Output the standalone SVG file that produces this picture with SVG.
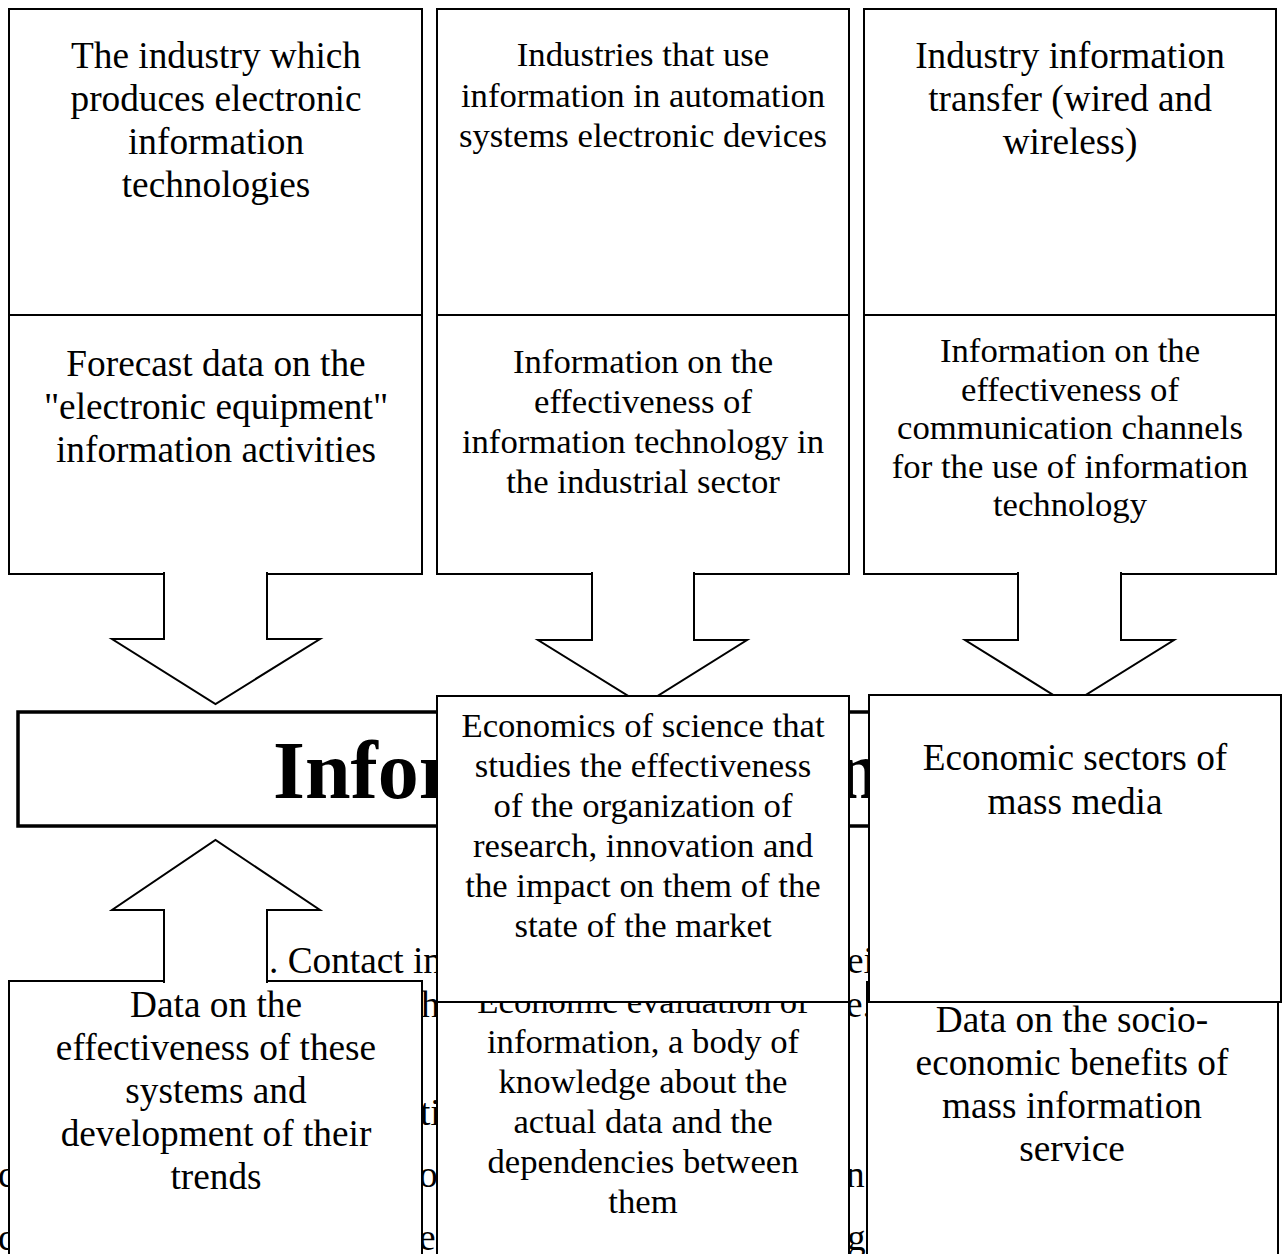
<svg xmlns="http://www.w3.org/2000/svg" width="1285" height="1254" viewBox="0 0 1285 1254">
<style>
.box{fill:#fff;stroke:#000;stroke-width:2}
.main{fill:#fff;stroke:#000;stroke-width:3.5}
.arr{fill:#fff;stroke:#000;stroke-width:2;stroke-linejoin:miter}
.t{font-family:"Liberation Serif","Times New Roman",serif;font-size:37.3px;fill:#000;text-anchor:middle}
.s{font-size:34.7px}
.bg{font-family:"Liberation Serif","Times New Roman",serif;font-size:37.3px;fill:#000}
.big{font-family:"Liberation Serif","Times New Roman",serif;font-size:82px;font-weight:bold;fill:#000}
</style>
<rect width="1285" height="1254" fill="#fff"/>
<g id="background-text">
<text class="bg" x="269" y="973">. Contact in</text>
<text class="bg" x="847" y="973">eig</text>
<text class="bg" x="421" y="1017">h</text>
<text class="bg" x="846" y="1017">e.</text>
<text class="bg" x="420" y="1125">ti</text>
<text class="bg" x="-2" y="1187">c</text>
<text class="bg" x="419" y="1187">o</text>
<text class="bg" x="846" y="1187">n</text>
<text class="bg" x="-2" y="1250">c</text>
<text class="bg" x="419" y="1250">e</text>
<text class="bg" x="847" y="1250">g</text>
</g>
<g id="n-top1">
<rect class="box" x="9" y="9" width="413" height="306"/>
<text class="t" x="216" y="68"><tspan x="216">The industry which</tspan><tspan x="216" dy="43">produces electronic</tspan><tspan x="216" dy="43">information</tspan><tspan x="216" dy="43">technologies</tspan></text>
</g>
<g id="n-top2">
<rect class="box" x="437" y="9" width="412" height="306"/>
<text class="t s" x="643" y="66"><tspan x="643">Industries that use</tspan><tspan x="643" dy="40.5">information in automation</tspan><tspan x="643" dy="40.5">systems electronic devices</tspan></text>
</g>
<g id="n-top3">
<rect class="box" x="864" y="9" width="412" height="306"/>
<text class="t" x="1070" y="68"><tspan x="1070">Industry information</tspan><tspan x="1070" dy="43">transfer (wired and</tspan><tspan x="1070" dy="43">wireless)</tspan></text>
</g>
<g id="n-mid1">
<rect class="box" x="9" y="315" width="413" height="259"/>
<text class="t" x="216" y="376"><tspan x="216">Forecast data on the</tspan><tspan x="216" dy="43">"electronic equipment"</tspan><tspan x="216" dy="43">information activities</tspan></text>
</g>
<g id="n-mid2">
<rect class="box" x="437" y="315" width="412" height="259"/>
<text class="t s" x="643" y="373"><tspan x="643">Information on the</tspan><tspan x="643" dy="40">effectiveness of</tspan><tspan x="643" dy="40">information technology in</tspan><tspan x="643" dy="40">the industrial sector</tspan></text>
</g>
<g id="n-mid3">
<rect class="box" x="864" y="315" width="412" height="259"/>
<text class="t s" x="1070" y="362"><tspan x="1070">Information on the</tspan><tspan x="1070" dy="38.5">effectiveness of</tspan><tspan x="1070" dy="38.5">communication channels</tspan><tspan x="1070" dy="38.5">for the use of information</tspan><tspan x="1070" dy="38.5">technology</tspan></text>
</g>
<g id="n-low1">
<rect class="box" x="9" y="981" width="413" height="300"/>
<text class="t" x="216" y="1017"><tspan x="216">Data on the</tspan><tspan x="216" dy="43">effectiveness of these</tspan><tspan x="216" dy="43">systems and</tspan><tspan x="216" dy="43">development of their</tspan><tspan x="216" dy="43">trends</tspan></text>
</g>
<g id="n-low2">
<rect class="box" x="437" y="982" width="412" height="300"/>
<text class="t s" x="643" y="1013"><tspan x="643">Economic evaluation of</tspan><tspan x="643" dy="40">information, a body of</tspan><tspan x="643" dy="40">knowledge about the</tspan><tspan x="643" dy="40">actual data and the</tspan><tspan x="643" dy="40">dependencies between</tspan><tspan x="643" dy="40">them</tspan></text>
</g>
<g id="n-low3">
<rect class="box" x="867" y="982" width="411" height="300"/>
<text class="t" x="1072" y="1032"><tspan x="1072">Data on the socio-</tspan><tspan x="1072" dy="43">economic benefits of</tspan><tspan x="1072" dy="43">mass information</tspan><tspan x="1072" dy="43">service</tspan></text>
</g>
<g id="connectors">
<path class="arr" d="M164,572 V639 H112 L215.5,704 L320,639 H267 V572"/>
<path class="arr" d="M592,572 V640 H538 L643,705 L747,640 H694 V572"/>
<path class="arr" d="M1018,572 V640 H965 L1069.5,705 L1174,640 H1121 V572"/>
<path class="arr" d="M164,983 V910 H112 L215.5,840 L320,910 H267 V983"/>
</g>
<g id="n-main">
<rect class="main" x="18" y="712" width="1249" height="114"/>
<text class="big" x="273" y="798">Information economy</text>
</g>
<g id="n-econ-science">
<rect class="box" x="437" y="696" width="412" height="306"/>
<text class="t s" x="643" y="737"><tspan x="643">Economics of science that</tspan><tspan x="643" dy="40">studies the effectiveness</tspan><tspan x="643" dy="40">of the organization of</tspan><tspan x="643" dy="40">research, innovation and</tspan><tspan x="643" dy="40">the impact on them of the</tspan><tspan x="643" dy="40">state of the market</tspan></text>
</g>
<g id="n-econ-media">
<rect class="box" x="869" y="695" width="412" height="307"/>
<text class="t" x="1075" y="770"><tspan x="1075">Economic sectors of</tspan><tspan x="1075" dy="44">mass media</tspan></text>
</g>
</svg>
